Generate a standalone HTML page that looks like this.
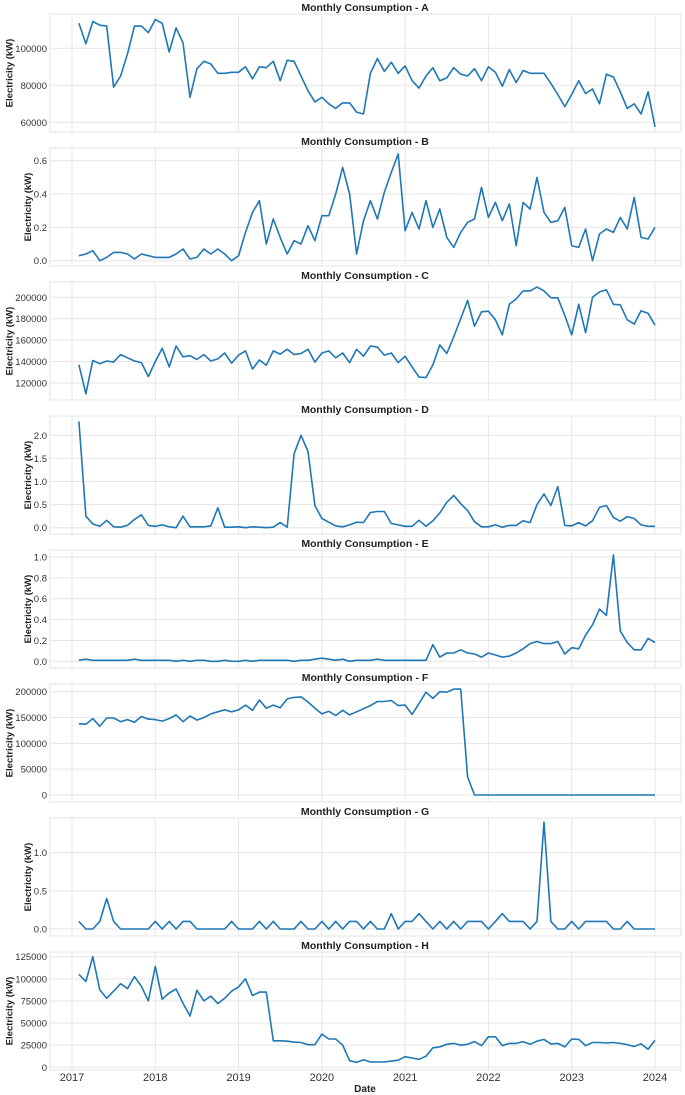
<!DOCTYPE html>
<html><head><meta charset="utf-8">
<style>
body{margin:0;background:#fff;}
svg{display:block;font-family:"Liberation Sans",Arial,sans-serif;}
</style></head>
<body>
<svg id="chart" width="685" height="1095" viewBox="0 0 685 1095" xmlns="http://www.w3.org/2000/svg"></svg>
<script>
const seriesA=[113500,102500,114500,112500,112000,79000,85000,97000,112000,112000,108500,115500,113500,98000,111000,103000,73500,89000,93000,91500,86500,86500,87000,87000,90000,83500,90000,89500,93000,82500,93500,93000,85000,77000,71000,73500,70000,67500,70500,70500,65500,64500,86500,94500,87500,92500,86500,90500,82500,78500,85000,89500,82500,84000,89500,86000,85000,89000,82500,90000,87000,79500,88500,81500,88000,86500,86500,86500,81000,75000,68500,75000,82500,75500,78000,70000,86000,84500,76500,67500,70000,64500,76500,57500];
const seriesB=[0.03,0.04,0.06,0.0,0.02,0.05,0.05,0.04,0.01,0.04,0.03,0.02,0.02,0.02,0.04,0.07,0.01,0.02,0.07,0.04,0.07,0.04,0.0,0.03,0.17,0.29,0.36,0.10,0.25,0.14,0.04,0.12,0.10,0.21,0.12,0.27,0.27,0.40,0.56,0.40,0.04,0.24,0.36,0.25,0.41,0.53,0.64,0.18,0.29,0.19,0.36,0.20,0.31,0.14,0.08,0.17,0.23,0.25,0.44,0.26,0.35,0.24,0.34,0.09,0.35,0.31,0.50,0.29,0.23,0.24,0.32,0.09,0.08,0.19,0.0,0.16,0.19,0.17,0.26,0.19,0.38,0.14,0.13,0.20];
const seriesC=[137000,110000,141000,138000,140500,139500,146500,143500,140500,139000,126000,140000,152500,135000,154500,144500,145500,142000,146500,140500,142500,148000,138500,146000,150000,133000,141500,136500,150000,147000,151500,146500,147500,151500,139500,148000,150000,143500,148000,139000,151500,145000,154500,153500,146000,148000,139000,145000,135000,125500,125000,137000,155500,147500,163000,180000,197000,173000,186500,187000,179000,165000,193500,198500,206000,206000,209500,206000,199500,199500,183000,165000,193500,167000,200000,205000,207000,193500,193000,179000,175000,187500,185000,174000];
const seriesD=[2.3,0.25,0.08,0.03,0.16,0.02,0.01,0.05,0.18,0.28,0.05,0.03,0.06,0.02,0.0,0.25,0.02,0.02,0.02,0.04,0.43,0.01,0.01,0.02,0.0,0.02,0.01,0.0,0.01,0.11,0.01,1.6,2.0,1.65,0.48,0.2,0.12,0.04,0.02,0.06,0.12,0.11,0.33,0.35,0.35,0.09,0.06,0.03,0.03,0.16,0.03,0.15,0.32,0.55,0.7,0.52,0.37,0.13,0.02,0.02,0.06,0.01,0.05,0.05,0.15,0.11,0.5,0.73,0.48,0.89,0.05,0.04,0.11,0.04,0.15,0.44,0.48,0.22,0.14,0.24,0.2,0.06,0.03,0.03];
const seriesE=[0.01,0.02,0.01,0.01,0.01,0.01,0.01,0.01,0.02,0.01,0.01,0.01,0.01,0.01,0.0,0.01,0.0,0.01,0.01,0.0,0.0,0.01,0.0,0.0,0.01,0.0,0.01,0.01,0.01,0.01,0.01,0.0,0.01,0.01,0.02,0.03,0.02,0.01,0.02,0.0,0.01,0.01,0.01,0.02,0.01,0.01,0.01,0.01,0.01,0.01,0.01,0.16,0.04,0.08,0.08,0.11,0.08,0.07,0.04,0.08,0.06,0.04,0.05,0.08,0.12,0.17,0.19,0.17,0.17,0.19,0.07,0.13,0.12,0.25,0.35,0.5,0.44,1.02,0.29,0.18,0.11,0.11,0.22,0.18];
const seriesF=[138000,137000,148000,133000,149000,149000,142000,146000,141000,152000,147000,146000,143000,148000,155000,142000,153000,145000,150000,157000,161000,165000,161000,165000,174000,164000,184000,168000,174000,169000,186000,189000,190000,180000,168000,157000,162000,154000,164000,155000,161000,167000,173000,181000,181000,183000,173000,174000,156000,177000,199000,187000,200000,199000,205000,205000,35000,0,0,0,0,0,0,0,0,0,0,0,0,0,0,0,0,0,0,0,0,0,0,0,0,0,0,0];
const seriesG=[0.1,0,0,0.1,0.4,0.1,0,0,0,0,0,0.1,0,0.1,0,0.1,0.1,0,0,0,0,0,0.1,0,0,0,0.1,0,0.1,0,0,0,0.1,0,0,0.1,0,0.1,0,0.1,0.1,0,0.1,0,0,0.2,0,0.1,0.1,0.2,0.1,0,0.1,0,0.1,0,0.1,0.1,0.1,0,0.1,0.2,0.1,0.1,0.1,0,0.1,1.4,0.1,0,0,0.1,0,0.1,0.1,0.1,0.1,0,0,0.1,0,0,0,0];
const seriesH=[105000,97000,125000,87500,78000,86000,94500,89000,102500,91500,75000,114000,77000,84000,88500,72500,58000,87000,75000,80500,72000,78000,86000,91000,100000,81000,85000,85000,30000,30000,29500,28500,28000,25500,25500,37500,32000,32000,25000,7500,5500,8500,6000,6000,6000,7000,8000,12000,10500,9000,12500,22000,23000,26000,27000,25000,26000,29000,24500,34500,34500,24500,27000,27000,29000,26000,29500,31500,26500,27000,23000,32000,31500,24500,28000,28000,27500,28000,27000,25500,23500,26500,20500,30500];
const ticksA=[60000,80000,100000];
const ticksB=[0.0,0.2,0.4,0.6];
const ticksC=[120000,140000,160000,180000,200000];
const ticksD=[0.0,0.5,1.0,1.5,2.0];
const ticksE=[0.0,0.2,0.4,0.6,0.8,1.0];
const ticksF=[0,50000,100000,150000,200000];
const ticksG=[0.0,0.5,1.0];
const ticksH=[0,25000,50000,75000,100000,125000];
const yearLabels=["2017","2018","2019","2020","2021","2022","2023","2024"];
const panelNames=["A","B","C","D","E","F","G","H"];

const svg=document.getElementById('chart');
const NS='http://www.w3.org/2000/svg';
function mk(tag,attrs,parent){const e=document.createElementNS(NS,tag);for(const k in attrs)e.setAttribute(k,attrs[k]);(parent||svg).appendChild(e);return e;}
const L=50,R=681,PH=118;
const yr0=72,yrPx=(655-72)/7;
function xOfIndex(i){return yr0+yrPx*((i+1)/12);}
function xOfYear(k){return yr0+yrPx*k;}
const panels=[
 {data:seriesA,ticks:ticksA,top:14,cal:[100000,48.3,60000,122.3],dec:0},
 {data:seriesB,ticks:ticksB,top:148,cal:[0.6,160.7,0,260.7],dec:1},
 {data:seriesC,ticks:ticksC,top:282,cal:[200000,297.3,120000,383],dec:0},
 {data:seriesD,ticks:ticksD,top:416,cal:[2.0,435.3,0,527.7],dec:1},
 {data:seriesE,ticks:ticksE,top:550,cal:[1.0,557,0,661.3],dec:1},
 {data:seriesF,ticks:ticksF,top:684,cal:[200000,691.7,0,795],dec:0},
 {data:seriesG,ticks:ticksG,top:818,cal:[1.0,852.7,0,929],dec:1},
 {data:seriesH,ticks:ticksH,top:952,cal:[125000,956.7,0,1067.3],dec:0}
];
panels.forEach((p,pi)=>{
  const g=mk('g',{});
  
  
  const [v1,p1,v2,p2]=p.cal;
  const yScale=v=>p1+(v-v1)*(p2-p1)/(v2-v1);
  const bg=mk('rect',{x:L,y:p.top,width:R-L,height:PH,fill:'#fff',stroke:'#e3e3e3','stroke-width':1},g);
  
  
  for(let k=0;k<8;k++){
    const gl=mk('line',{x1:xOfYear(k),x2:xOfYear(k),y1:p.top,y2:p.top+PH,stroke:'#e6e6e6','stroke-width':1},g);
    
    
  }
  let maxW=0;
  p.ticks.forEach(t=>{
    const y=yScale(t);
    const gl=mk('line',{x1:L,x2:R,y1:y,y2:y,stroke:'#e6e6e6','stroke-width':1},g);
    
    
    const s=t.toFixed(p.dec);
    const tx=mk('text',{x:L-3,y:y+3.5,'text-anchor':'end','font-size':9.5,fill:'#333'},g);
    tx.textContent=s;
    
    
    let w=0;try{w=tx.getComputedTextLength();}catch(e){w=s.length*5.3;}
    maxW=Math.max(maxW,w);
  });
  const pts=p.data.map((v,i)=>xOfIndex(i).toFixed(1)+','+yScale(v).toFixed(1)).join(' ');
  const ln=mk('polyline',{points:pts,fill:'none',stroke:'#1f77b4','stroke-width':1.6,'stroke-linejoin':'round'},g);
  
  
  const ti=mk('text',{x:365,y:p.top-3,'text-anchor':'middle','font-size':10.5,'font-weight':'bold',fill:'#222'},g);
  ti.textContent='Monthly Consumption - '+panelNames[pi];
  
  
  const lx=Math.max(10,L-3-maxW-3);
  const cy=p.top+PH/2;
  const yl=mk('text',{x:lx,y:cy,'text-anchor':'middle','font-size':9.5,'font-weight':'bold',fill:'#222',transform:'rotate(-90 '+lx+' '+cy+')'},g);
  yl.textContent='Electricity (kW)';
  
  
});
yearLabels.forEach((s,k)=>{
  const t=mk('text',{x:xOfYear(k),y:1081,'text-anchor':'middle','font-size':11,fill:'#333'});
  t.textContent=s;
  
  
});
const xt=mk('text',{x:365,y:1092,'text-anchor':'middle','font-size':10,'font-weight':'bold',fill:'#222'});
xt.textContent='Date';


</script>
</body></html>
